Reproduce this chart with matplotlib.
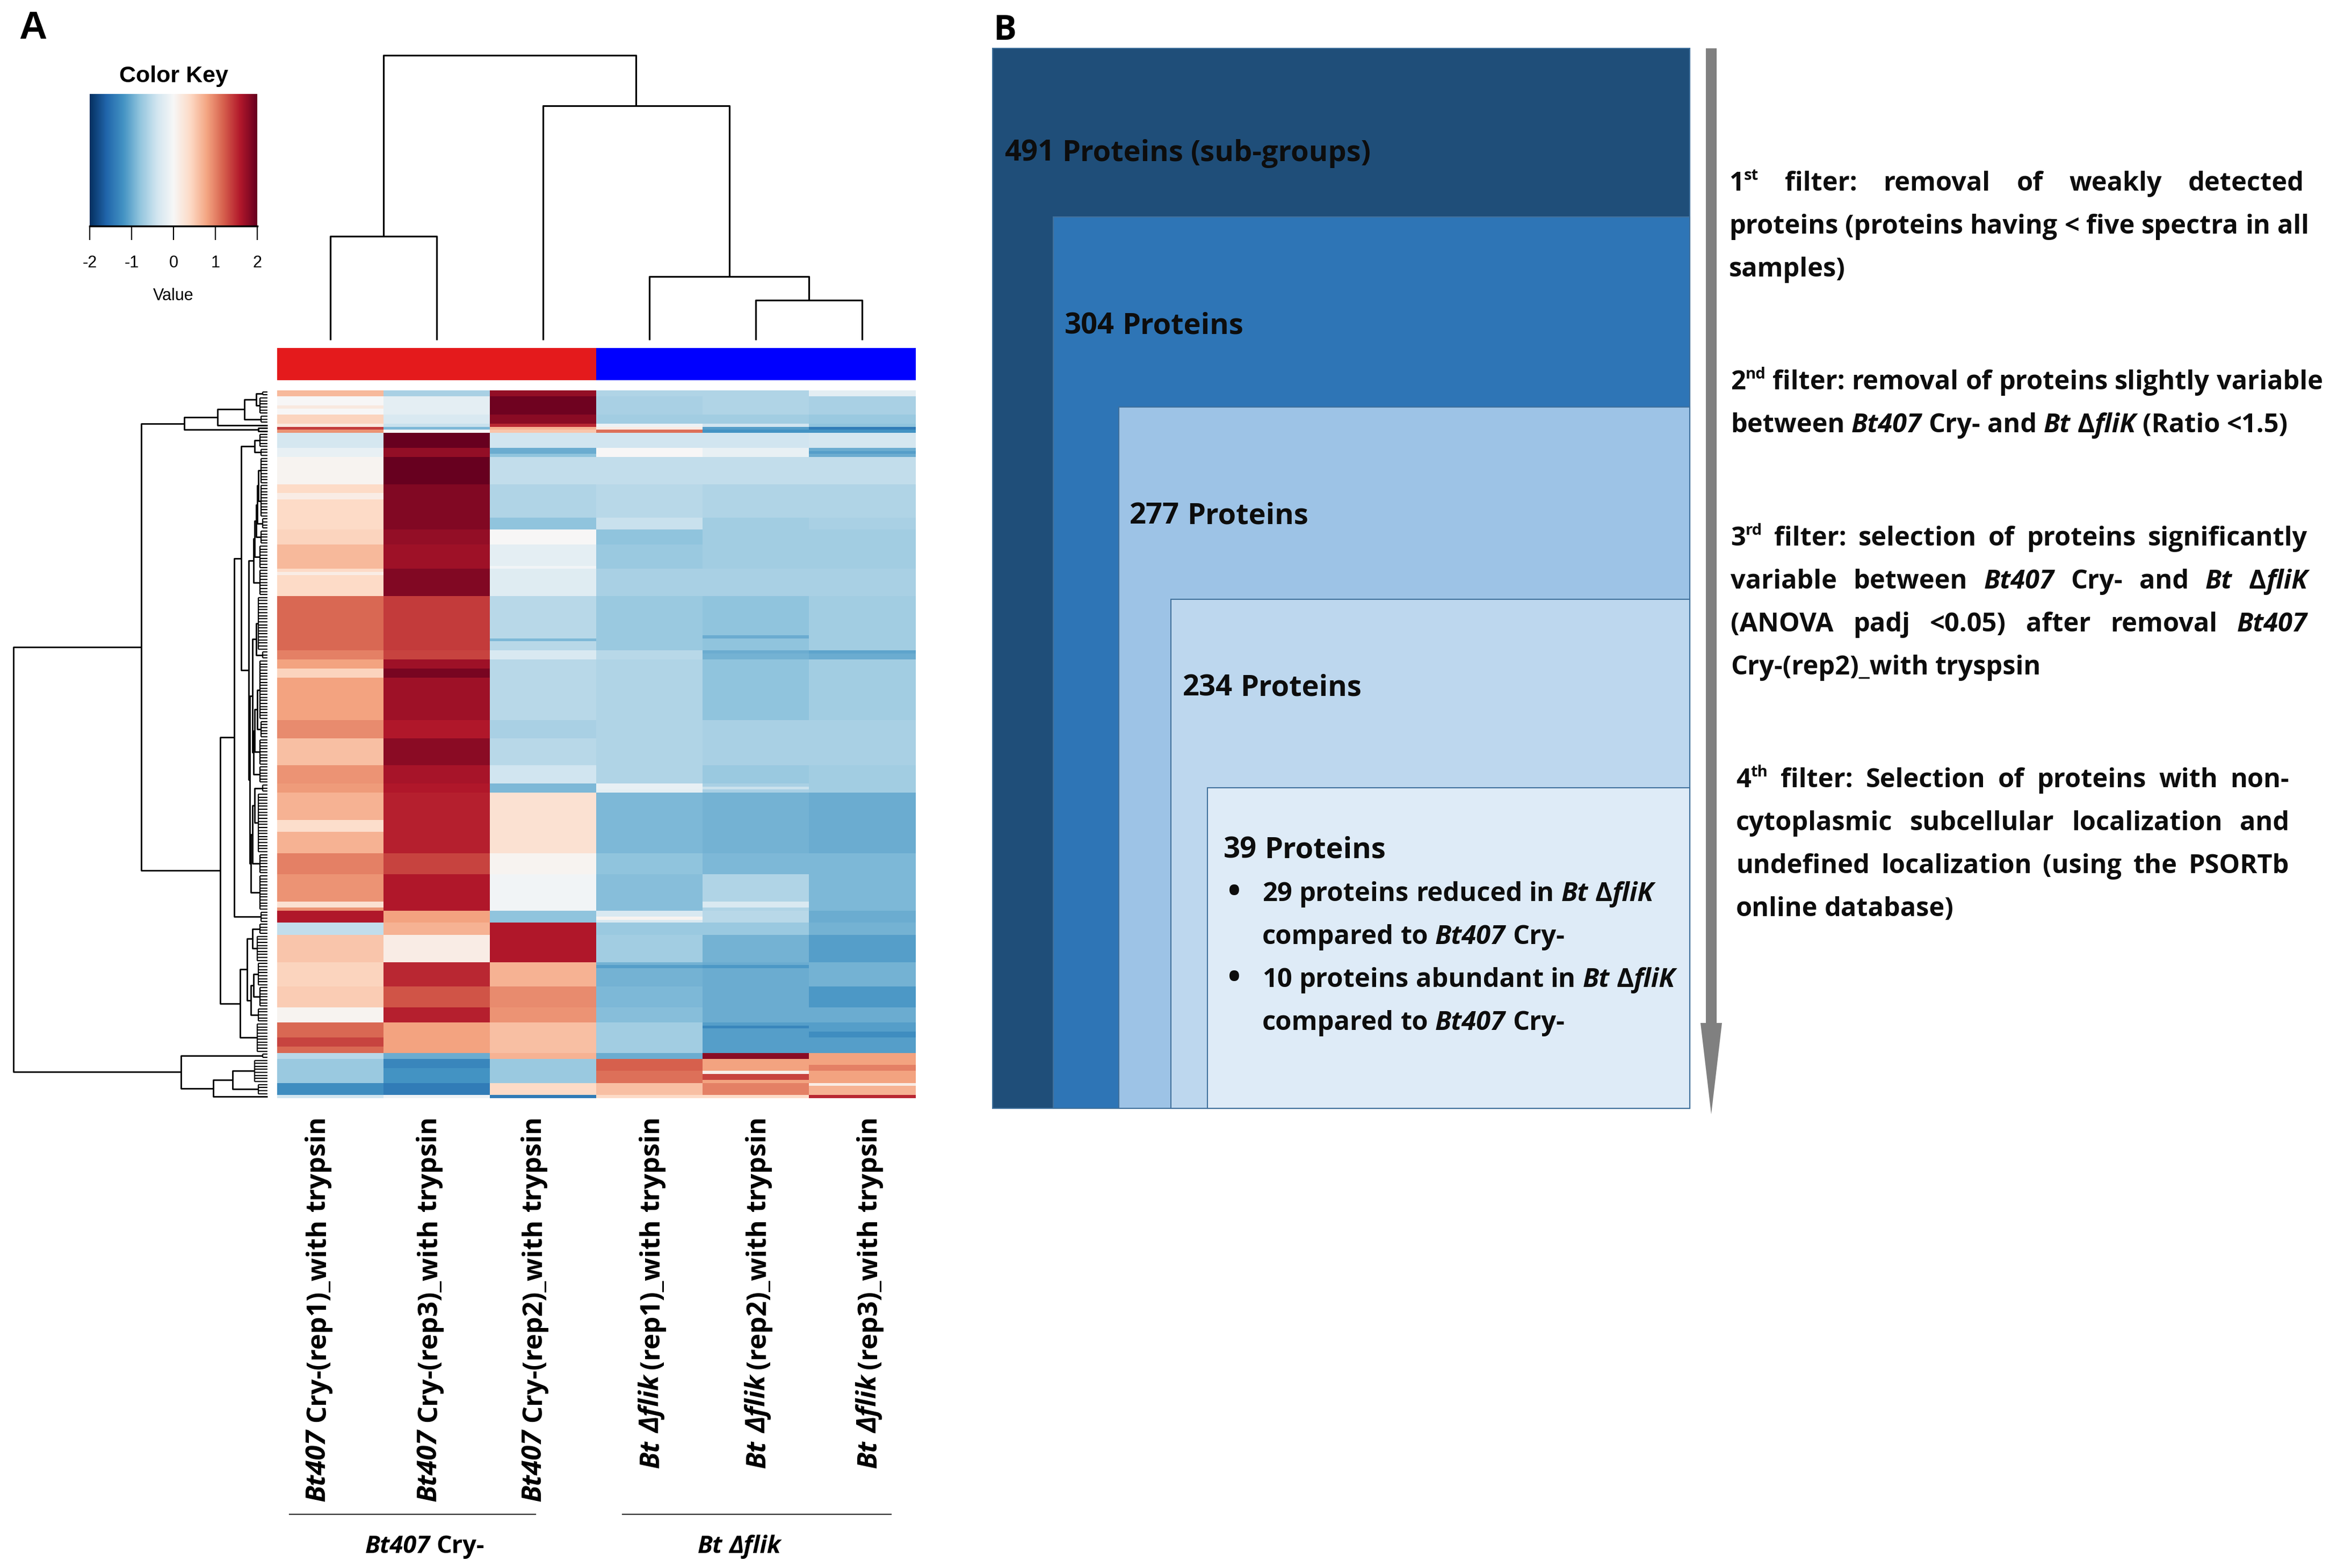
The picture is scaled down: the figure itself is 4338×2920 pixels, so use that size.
import matplotlib
matplotlib.use("Agg")
import numpy as np
import matplotlib.pyplot as plt
from matplotlib.colors import ListedColormap
from matplotlib.collections import LineCollection
from matplotlib.patches import Rectangle, Polygon

W, H = 4338, 2920
DPI = 100

CAL = ["Open Sans", "DejaVu Sans"]
NARROW = ["Liberation Sans Narrow", "Liberation Sans", "DejaVu Sans"]

# ---------------- panel A data ----------------
COL_LABELS = ["*Bt407* Cry-(rep1)_with trypsin", "*Bt407* Cry-(rep3)_with trypsin",
              "*Bt407* Cry-(rep2)_with trypsin", "*Bt* *Δflik* (rep1)_with trypsin",
              "*Bt* *Δflik* (rep2)_with trypsin", "*Bt* *Δflik* (rep3)_with trypsin"]
COL_GROUP = [0, 0, 0, 1, 1, 1]
GROUP_LABELS = ["*Bt407* Cry-", "*Bt* *Δflik*"]
GROUP_COLORS = ["#E41A1C", "#0000FF"]

# rows of the heatmap, grouped in bands of similar rows (rows per band)
SEG_ROWS = [2, 6, 3, 1, 1, 1, 5, 3, 9, 11, 4, 5, 8, 9, 18, 3, 20, 6, 9, 6, 3, 20, 7,
            12, 4, 4, 9, 8, 7, 5, 10, 2, 8, 4, 1]
CRY_REP1 = [0.65, 0.0, 0.45, 0.2, 1.4, 0.9, -0.35, -0.15, 0.05, 0.4, 0.4, 0.45, 0.65, 0.4,
            1.15, 1.0, 0.8, 0.95, 0.6, 0.9, 0.85, 0.7, 1.0, 0.9, 1.6, -0.5, 0.55, 0.45, 0.5,
            0.05, 1.15, -0.55, -0.75, -1.25, -0.4]
CRY_REP3 = [-0.65, -0.2, -0.3, -0.45, -0.9, 0.0, 2.0, 1.75, 2.0, 1.85, 1.85, 1.75, 1.7, 1.85,
            1.4, 1.35, 1.7, 1.6, 1.8, 1.65, 1.6, 1.55, 1.35, 1.6, 0.8, 0.7, 0.15, 1.5, 1.25,
            1.55, 0.8, -1.0, -1.2, -1.4, -0.1]
CRY_REP2 = [1.75, 1.95, 1.8, 1.5, 0.7, 0.55, -0.4, -0.8, -0.5, -0.6, -0.8, 0.0, -0.2, -0.25,
            -0.55, -0.3, -0.55, -0.65, -0.55, -0.4, -0.9, 0.3, 0.05, -0.05, -0.8, 1.6, 1.6,
            0.7, 0.95, 0.9, 0.6, 0.7, -0.75, 0.4, -1.4]
D_REP1 = [-0.6, -0.65, -0.7, -0.1, 0.15, 1.1, -0.4, 0.0, -0.5, -0.55, -0.45, -0.8, -0.75,
          -0.65, -0.75, -0.55, -0.6, -0.6, -0.6, -0.6, -0.2, -0.9, -0.8, -0.85, -0.3, -0.75,
          -0.7, -0.95, -0.9, -0.85, -0.7, -1.0, 1.1, 0.6, 0.4]
D_REP2 = [-0.6, -0.6, -0.7, -0.4, -1.1, -1.2, -0.4, -0.15, -0.5, -0.6, -0.7, -0.7, -0.7,
          -0.65, -0.8, -0.95, -0.8, -0.65, -0.65, -0.75, -0.65, -0.95, -0.9, -0.6, -0.55,
          -0.75, -0.95, -1.0, -1.0, -1.0, -1.1, 1.8, 0.8, 1.0, 0.4]
D_REP3 = [-0.2, -0.65, -0.75, -0.8, -1.4, -1.2, -0.35, -1.0, -0.5, -0.6, -0.65, -0.7, -0.7,
          -0.65, -0.7, -1.0, -0.7, -0.65, -0.65, -0.7, -0.7, -1.0, -0.9, -0.9, -1.0, -0.95,
          -1.1, -0.95, -1.15, -1.0, -1.1, 0.8, 0.8, 0.7, 1.5]

# thin stripes inside the bands: first row, number of rows, column, value
STRIPE_ROW = [5, 19, 20, 34, 58, 60, 82, 81, 86, 86, 92, 92, 130, 131, 142, 169, 169, 174,
              190, 190, 210, 212, 214, 221, 225, 226, 223, 229, 221]
STRIPE_N = [1, 2, 1, 2, 1, 1, 1, 1, 1, 1, 3, 3, 2, 1, 4, 2, 2, 1, 1, 1, 1, 2, 3, 4, 1, 2,
            2, 1, 3]
STRIPE_COL = [0, 2, 5, 0, 2, 0, 2, 4, 4, 5, 0, 1, 3, 4, 0, 0, 4, 3, 3, 4, 4, 5, 0, 3, 4, 4,
              5, 5, 1]
STRIPE_VAL = [0.2, -1.0, -1.1, 0.15, -0.05, 0.15, -0.9, -1.0, -1.0, -1.05, 0.45, 1.9, -0.15,
              -0.45, 0.35, 0.3, -0.3, 0.05, -1.1, -1.15, -1.3, -1.25, 1.35, 1.2, 0.1, 1.35,
              1.0, 0.15, -1.3]

# row dendrogram: height of the merge inside each band, then merges between bands
SEG_H = [0.2, 0.3, 0.25, 0, 0, 0, 0.3, 0.25, 0.25, 0.25, 0.2, 0.25, 0.3, 0.3, 0.35, 0.2, 0.3,
         0.25, 0.3, 0.3, 0.2, 0.35, 0.3, 0.3, 0.25, 0.3, 0.4, 0.35, 0.3, 0.35, 0.4, 0.2,
         0.5, 0.35, 0]
ROW_MERGES = [(0, 1, 0.45), (35, 2, 0.91), (36, 3, 1.97), (4, 5, 0.35), (37, 38, 3.28),
              (6, 7, 0.5), (8, 9, 0.35), (41, 10, 0.4), (42, 11, 0.45), (43, 12, 0.5),
              (44, 13, 0.55), (14, 15, 0.45), (16, 17, 0.4), (47, 18, 0.5), (48, 19, 0.55),
              (46, 49, 0.6), (20, 21, 0.5), (51, 22, 0.6), (52, 23, 0.65), (50, 53, 0.7),
              (45, 54, 0.75), (40, 55, 1.04), (56, 24, 1.31), (25, 26, 0.6), (27, 28, 0.55),
              (59, 29, 0.65), (58, 60, 0.8), (61, 30, 1.08), (57, 62, 1.86), (39, 63, 4.97),
              (32, 33, 1.37), (65, 34, 2.14), (31, 66, 3.4), (64, 67, 10.0)]
COL_MERGES = [(0, 1, 3.64), (4, 5, 1.40), (3, 7, 2.23), (2, 8, 8.23), (6, 9, 10.0)]

KEY_TICKS = [-2, -1, 0, 1, 2]

# ---------------- panel B data ----------------
BOX_COUNTS = [491, 304, 277, 234, 39]
BOX_NOTES = [" (sub-groups)", "", "", "", ""]
BOX_COLORS = ["#1F4E79", "#2E75B6", "#9DC3E6", "#BDD7EE", "#DEEBF7"]
BULLETS = [["29 proteins reduced in *Bt* Δ*fliK*", "compared to *Bt407* Cry-"],
           ["10 proteins abundant in *Bt* Δ*fliK*", "compared to *Bt407* Cry-"]]
FILTERS = [
    ["1^st^ filter: removal of weakly detected",
     "proteins (proteins having < five spectra in all",
     "samples)"],
    ["2^nd^ filter: removal of proteins slightly variable",
     "between *Bt407* Cry- and *Bt* Δ*fliK* (Ratio <1.5)"],
    ["3^rd^ filter: selection of proteins significantly",
     "variable between *Bt407* Cry- and *Bt* Δ*fliK*",
     "(ANOVA padj <0.05) after removal *Bt407*",
     "Cry-(rep2)_with tryspsin"],
    ["4^th^ filter: Selection of proteins with non-",
     "cytoplasmic subcellular localization and",
     "undefined localization (using the PSORTb",
     "online database)"],
]

fig = plt.figure(figsize=(W / DPI, H / DPI), dpi=DPI)


def px_axes(x0, y0, x1, y1):
    return fig.add_axes([x0 / W, 1 - y1 / H, (x1 - x0) / W, (y1 - y0) / H])


ov = fig.add_axes([0, 0, 1, 1], zorder=5)
ov.set_xlim(0, W)
ov.set_ylim(H, 0)
ov.axis("off")
renderer = fig.canvas.get_renderer()


def style(size, family, italic):
    return dict(fontsize=size, family=family, fontweight="bold",
                fontstyle="italic" if italic else "normal")


def text_w(s, size, family, italic=False):
    t = ov.text(0, 0, s, **style(size, family, italic))
    w = t.get_window_extent(renderer=renderer).width
    t.remove()
    return w


def parse_word(word):
    runs, buf, it, sup = [], "", False, False
    for ch in word:
        if ch in "*^":
            if buf:
                runs.append((buf, it, sup))
            buf = ""
            if ch == "*":
                it = not it
            else:
                sup = not sup
        else:
            buf += ch
    if buf:
        runs.append((buf, it, sup))
    return runs


def layout(line, size, family):
    words = []
    for w in line.split(" "):
        runs = []
        for s, it, sup in parse_word(w):
            sz = size * 0.6 if sup else size
            runs.append((s, it, sup, sz, text_w(s, sz, family, it)))
        words.append(runs)
    space = text_w("a a", size, family) - text_w("aa", size, family)
    return words, space


def natural_len(line, size, family):
    words, space = layout(line, size, family)
    return sum(r[4] for w in words for r in w) + space * (len(words) - 1)


def fit_size(line, family, target):
    return 20 * target / natural_len(line, 20, family)


def draw_line(x, y, line, size, family, right=None, vertical=False, color="black"):
    words, space = layout(line, size, family)
    total = sum(r[4] for w in words for r in w)
    gap = space
    if right is not None and len(words) > 1:
        gap = max(space, (right - x - total) / (len(words) - 1))
    cur = y if vertical else x
    for w in words:
        for s, it, sup, sz, wd in w:
            if vertical:
                ov.text(x, cur, s, rotation=90, rotation_mode="anchor", ha="left",
                        va="baseline", color=color, **style(sz, family, it))
                cur -= wd
            else:
                lift = 0.42 * size * DPI / 72 if sup else 0
                ov.text(cur, y - lift, s, ha="left", va="baseline", color=color,
                        **style(sz, family, it))
                cur += wd
        cur += -gap if vertical else gap


def dendro(merges, pos, hgt):
    pos, hgt = list(pos), list(hgt)
    paths = []
    for a, b, h in merges:
        paths.append([(hgt[a], pos[a]), (h, pos[a]), (h, pos[b]), (hgt[b], pos[b])])
        pos.append((pos[a] + pos[b]) / 2)
        hgt.append(h)
    return paths


# ---------------- heatmap ----------------
values = np.array([CRY_REP1, CRY_REP3, CRY_REP2, D_REP1, D_REP2, D_REP3]).T
matrix = np.repeat(values, SEG_ROWS, axis=0)
for r, n, c, v in zip(STRIPE_ROW, STRIPE_N, STRIPE_COL, STRIPE_VAL):
    matrix[r:r + n, c] = v
n_rows = matrix.shape[0]

hm = px_axes(516, 727, 1704, 2045)
hm.imshow(matrix, cmap="RdBu_r", vmin=-2, vmax=2, aspect="auto", interpolation="nearest")
hm.axis("off")

sb = px_axes(516, 648, 1704, 708)
sb.imshow(np.array([COL_GROUP]), cmap=ListedColormap(GROUP_COLORS), aspect="auto",
          interpolation="nearest", vmin=0, vmax=1)
sb.axis("off")

# column dendrogram
cd = px_axes(516, 100, 1704, 633)
for p in dendro(COL_MERGES, [i + 0.5 for i in range(6)], [0] * 6):
    cd.plot([q[1] for q in p], [q[0] for q in p], color="black", lw=2.3,
            solid_capstyle="butt", clip_on=False)
cd.set_xlim(0, 6)
cd.set_ylim(0, 10 * 533 / 530)
cd.axis("off")

# row dendrogram
rd = px_axes(20, 727, 498, 2045)
starts = np.concatenate([[0], np.cumsum(SEG_ROWS)[:-1]])
leaf_pos = [s + n / 2 for s, n in zip(starts, SEG_ROWS)]
leaf_h = [h if n > 1 else 0 for h, n in zip(SEG_H, SEG_ROWS)]
comb = []
for s, n, h in zip(starts, SEG_ROWS, leaf_h):
    if n > 1:
        for r in range(s, s + n):
            comb.append([(0, r + 0.5), (h, r + 0.5)])
        comb.append([(h, s + 0.5), (h, s + n - 0.5)])
rd.add_collection(LineCollection(comb, colors="black", linewidths=1.6))
for p in dendro(ROW_MERGES, leaf_pos, leaf_h):
    rd.plot([q[0] for q in p], [q[1] for q in p], color="black", lw=2.0,
            solid_capstyle="butt", clip_on=False)
rd.set_xlim(10 * 478 / 473, 0)
rd.set_ylim(n_rows, 0)
rd.axis("off")

# colour key
ck = px_axes(167, 175, 479, 421)
ck.imshow(np.linspace(-2, 2, 256)[None, :], cmap="RdBu_r", aspect="auto",
          extent=(-2, 2, 0, 1))
ck.set_xticks(KEY_TICKS)
ck.set_xticklabels([str(t) for t in KEY_TICKS], family=NARROW, fontsize=22)
ck.set_yticks([])
ck.tick_params(axis="x", length=19, width=1.6, pad=20)
for side in ["top", "left", "right"]:
    ck.spines[side].set_visible(False)
ck.spines["bottom"].set_linewidth(2.5)
ck.set_title("Color Key", family=NARROW, fontsize=31, fontweight="bold", pad=16)
ck.set_xlabel("Value", family=NARROW, fontsize=22, labelpad=22)

ov.text(35, 72, "A", family=NARROW, fontsize=52, fontweight="bold", ha="left",
        va="baseline")

# sample labels (placed a little wider apart than the columns, as in the figure)
label_cx = [590, 797, 992, 1212, 1410, 1617]
s_lab = fit_size(COL_LABELS[0], CAL, 718)
em = s_lab * DPI / 72
for cx, lab in zip(label_cx, COL_LABELS):
    L = natural_len(lab, s_lab, CAL)
    draw_line(cx + 0.3 * em, 2078 + L, lab, s_lab, CAL, vertical=True)

# group brackets
s_grp = fit_size(GROUP_LABELS[0], CAL, 222)
for (x0, x1, xc), lab in zip([(539, 997, 791), (1159, 1659, 1376)], GROUP_LABELS):
    ov.plot([x0, x1], [2820, 2820], color="#333333", lw=1.6)
    L = natural_len(lab, s_grp, CAL)
    draw_line(xc - L / 2, 2892, lab, s_grp, CAL)

# ---------------- panel B ----------------
ov.text(1849, 74, "B", family=CAL, fontsize=46, fontweight="bold", ha="left",
        va="baseline")
box_left = [1848, 1961, 2083, 2180, 2248]
box_top = [90, 404, 758, 1116, 1467]
box_right, box_bottom = 3146, 2064
for x0, y0, c in zip(box_left, box_top, BOX_COLORS):
    ov.add_patch(Rectangle((x0, y0), box_right - x0, box_bottom - y0, facecolor=c,
                           edgecolor="#41719C", lw=1.5))

s_box = fit_size(f"{BOX_COUNTS[0]} Proteins{BOX_NOTES[0]}", CAL, 682)
label_xy = [(1870, 300), (1982, 622), (2103, 975), (2202, 1296), (2278, 1597)]
for (x, y), n, note in zip(label_xy, BOX_COUNTS, BOX_NOTES):
    draw_line(x, y, f"{n} Proteins{note}", s_box, CAL, color="#0D0D0D")

s_bul = fit_size(BULLETS[1][0], CAL, 769)
yb = 1678
for item in BULLETS:
    ov.text(2298, yb - 0.28 * s_bul * DPI / 72, "•", family=CAL, fontsize=s_bul * 1.3,
            fontweight="bold", ha="center", va="center", color="#0D0D0D")
    for line in item:
        draw_line(2350, yb, line, s_bul, CAL, color="#0D0D0D")
        yb += 80

# grey arrow
ov.add_patch(Polygon([(3176, 90), (3196, 90), (3196, 1905), (3206, 1905), (3186, 2075),
                      (3166, 1905), (3176, 1905)], closed=True, facecolor="#808080",
                     edgecolor="none"))

# filter descriptions, justified
s_par = fit_size(FILTERS[1][0], CAL, 1101)
para_x = [3219, 3222, 3222, 3232]
para_right = [4290, 4323, 4296, 4262]
para_base = [355, 725, 1016, 1466]
for lines, x, xr, y in zip(FILTERS, para_x, para_right, para_base):
    for i, line in enumerate(lines):
        last = i == len(lines) - 1
        draw_line(x, y + i * 80, line, s_par, CAL, right=None if last else xr,
                  color="#0D0D0D")

fig.savefig("out.png", dpi=DPI)
